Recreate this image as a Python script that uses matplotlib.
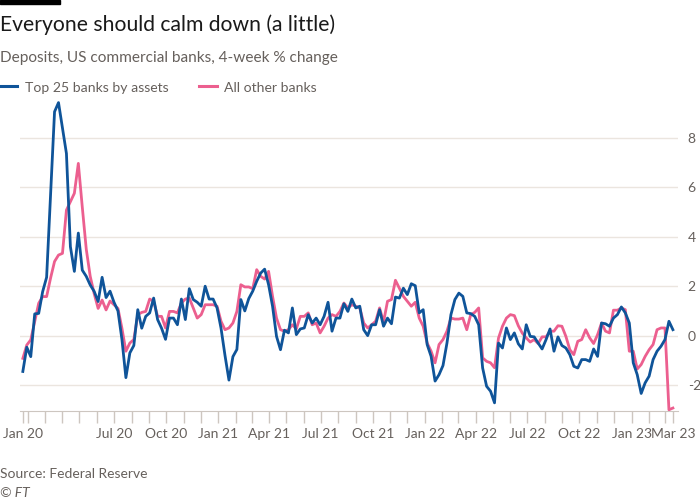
import matplotlib
matplotlib.use("Agg")
import matplotlib.pyplot as plt
import pandas as pd
from matplotlib.lines import Line2D
from matplotlib.patches import Rectangle

# weekly 4-week % change in deposits
top25 = [
    -1.45, -0.47, -0.85, 0.88, 0.9, 1.78, 2.36, 5.7, 9.06, 9.43,
    8.4, 7.37, 3.6, 2.6, 4.15, 2.65, 2.4, 2.05, 1.79, 1.38,
    2.36, 1.54, 1.8, 1.35, 1.0, -0.15, -1.7, -0.7, -0.4, 1.05,
    0.3, 0.78, 0.92, 1.52, 0.65, 0.3, -0.15, 0.71, 0.71, 0.44,
    1.48, 0.65, 1.9, 1.46, 1.35, 1.19, 2.0, 1.48, 1.48, 1.12,
    0.3, -0.8, -1.8, -0.85, -0.56, 1.46, 1.0, 1.5, 1.8, 2.2,
    2.53, 2.69, 2.06, 1.19, -0.03, -0.57, 0.22, 0.11, 1.12, 0.04,
    0.27, 0.31, 0.85, 0.51, 0.71, 0.44, 0.78, 1.35, 0.18, 0.71,
    0.71, 1.29, 0.98, 1.48, 1.12, 1.19, 0.24, 0.0, 0.44, 0.44,
    1.05, 0.38, 0.71, 0.48, 1.56, 1.52, 1.92, 1.66, 2.1, 2.02,
    0.92, 1.05, -0.36, -0.84, -1.84, -1.58, -1.21, -0.3, 0.85, 1.46,
    1.72, 1.59, 0.92, 0.89, 0.78, 0.44, -1.31, -2.05, -2.25, -2.72,
    -0.3, -0.5, 0.31, -0.16, 0.11, -0.33, -0.54, 0.44, -0.03, -0.05,
    -0.3, -0.54, -0.16, 0.27, -0.63, -0.05, -0.4, -0.5, -0.77, -1.24,
    -1.31, -0.97, -0.97, -1.04, -0.54, -0.84, 0.51, 0.48, 0.38, 0.71,
    0.85, 1.16, 0.92, 0.51, -1.1, -1.58, -2.34, -1.91, -1.64, -0.97,
    -0.63, -0.43, -0.16, 0.58, 0.24,
]
others = [
    -0.92, -0.38, -0.17, 0.57, 1.31, 1.58, 1.58, 2.33, 3.0, 3.26,
    3.33, 5.08, 5.42, 5.76, 6.97, 5.2, 3.5, 2.4, 1.7, 1.1,
    1.44, 1.04, 1.4, 1.25, 1.1, 0.3, -0.63, -0.3, -0.16, 0.85,
    0.94, 0.98, 1.48, 1.39, 0.78, 0.78, 0.31, 0.98, 0.98, 0.92,
    1.32, 1.48, 1.52, 1.12, 0.71, 0.85, 1.25, 1.25, 1.25, 1.19,
    0.58, 0.24, 0.31, 0.51, 0.98, 2.06, 1.97, 1.97, 1.9, 2.67,
    2.4, 2.29, 2.6, 1.59, 0.71, 0.24, 0.18, 0.24, 0.44, 0.27,
    0.78, 0.78, 0.92, 0.44, 0.51, 0.11, 0.38, 0.71, 0.85, 0.78,
    0.98, 1.32, 1.12, 1.25, 1.19, 1.12, 0.51, 0.31, 0.44, 0.58,
    1.12, 0.55, 1.39, 1.46, 2.24, 1.92, 1.59, 1.39, 1.19, 1.35,
    0.71, 0.38, -0.3, -0.63, -1.1, -0.36, -0.16, 0.18, 0.71, 0.67,
    0.67, 0.71, 0.24, 0.85, 0.94, 1.12, -0.9, -1.04, -1.1, -1.3,
    -0.1, 0.38, 0.71, 0.85, 0.81, 0.4, 0.1, -0.09, -0.26, -0.16,
    -0.32, -0.05, -0.05, 0.18, 0.18, 0.4, 0.38, -0.03, -0.57, -0.77,
    -0.23, -0.16, 0.24, -0.09, -0.32, 0.04, 0.51, 0.18, 0.11, 1.03,
    1.03, 1.12, 1.05, -0.63, -0.63, -1.35, -1.17, -0.84, -0.57, -0.36,
    0.24, 0.31, 0.31, -3.0, -2.93,
]
start_date = "2020-01-22"
quarter_ticks = ["2020-07-01", "2020-10-01", "2021-01-01", "2021-04-01", "2021-07-01",
                 "2021-10-01", "2022-01-01", "2022-04-01", "2022-07-01", "2022-10-01",
                 "2023-01-01"]
tick_labels = ["Jan 20", "Jul 20", "Oct 20", "Jan 21", "Apr 21", "Jul 21", "Oct 21",
               "Jan 22", "Apr 22", "Jul 22", "Oct 22", "Jan 23", "Mar 23"]
y_ticks = [-2, 0, 2, 4, 6, 8]

BLUE = "#0f5499"
PINK = "#ec5f8f"
GREY = "#66605c"
AXIS = "#cdc6c0"
GRID = "#ebe5df"

plt.rcParams["font.family"] = ["Lato", "DejaVu Sans"]

dates = pd.date_range(start_date, periods=len(top25), freq="7D")

fig = plt.figure(figsize=(7, 5), dpi=100)
fig.patch.set_facecolor("white")
ax = fig.add_axes([20 / 700, 89 / 500, 658 / 700, 312.6 / 500])

ax.plot(dates, others, color=PINK, lw=2.0, solid_joinstyle="round", zorder=3)
ax.plot(dates, top25, color=BLUE, lw=2.0, solid_joinstyle="round", zorder=4)

ax.set_ylim(-3.05, 9.6)
ax.set_xlim(dates[0] - pd.Timedelta(days=5), dates[-1] + pd.Timedelta(days=9))

# y axis on the right, gridlines only
ax.yaxis.tick_right()
ax.set_yticks(y_ticks)
ax.set_yticklabels([str(v) for v in y_ticks])
ax.grid(axis="y", color=GRID, lw=1)
ax.set_axisbelow(True)
ax.tick_params(axis="y", length=0, pad=7, labelsize=10, labelcolor=GREY)

for s in ["top", "left", "right"]:
    ax.spines[s].set_visible(False)
ax.spines["bottom"].set_color(AXIS)

# x ticks: labelled ends + quarters, plain monthly ticks in between
major = [dates[0]] + [pd.Timestamp(d) for d in quarter_ticks] + [dates[-1]]
months = pd.date_range("2020-02-01", "2023-03-01", freq="MS")
minor = [m for m in months if m not in major]
ax.set_xticks(major)
ax.set_xticklabels(tick_labels)
ax.set_xticks(minor, minor=True)
ax.tick_params(axis="x", which="both", length=8.5, width=1, color=AXIS,
               labelsize=10, labelcolor=GREY, pad=4)

# header
fig.patches.append(Rectangle((0, 1 - 4 / 500), 60 / 700, 4 / 500,
                             transform=fig.transFigure, color="black"))
fig.text(0, 1 - 31 / 500, "Everyone should calm down (a little)", fontsize=15.2,
         color="#1a1a1a", va="baseline")
fig.text(0, 1 - 62 / 500, "Deposits, US commercial banks, 4-week % change",
         fontsize=11.1, color=GREY, va="baseline")

# legend
ly = 1 - 86 / 500
fig.lines.append(Line2D([0, 17 / 700], [ly, ly], color=BLUE, lw=2.2,
                        transform=fig.transFigure))
fig.text(25 / 700, 1 - 92 / 500, "Top 25 banks by assets", fontsize=10.1,
         color=GREY, va="baseline")
fig.lines.append(Line2D([199 / 700, 217 / 700], [ly, ly], color=PINK, lw=2.2,
                        transform=fig.transFigure))
fig.text(224 / 700, 1 - 92 / 500, "All other banks", fontsize=10.1,
         color=GREY, va="baseline")

# footer
fig.text(0, 1 - 478 / 500, "Source: Federal Reserve", fontsize=10, color=GREY,
         va="baseline")
fig.text(0, 1 - 497 / 500, "© FT", fontsize=10, color=GREY, style="italic",
         va="baseline")

fig.savefig("out.png", dpi=100)
